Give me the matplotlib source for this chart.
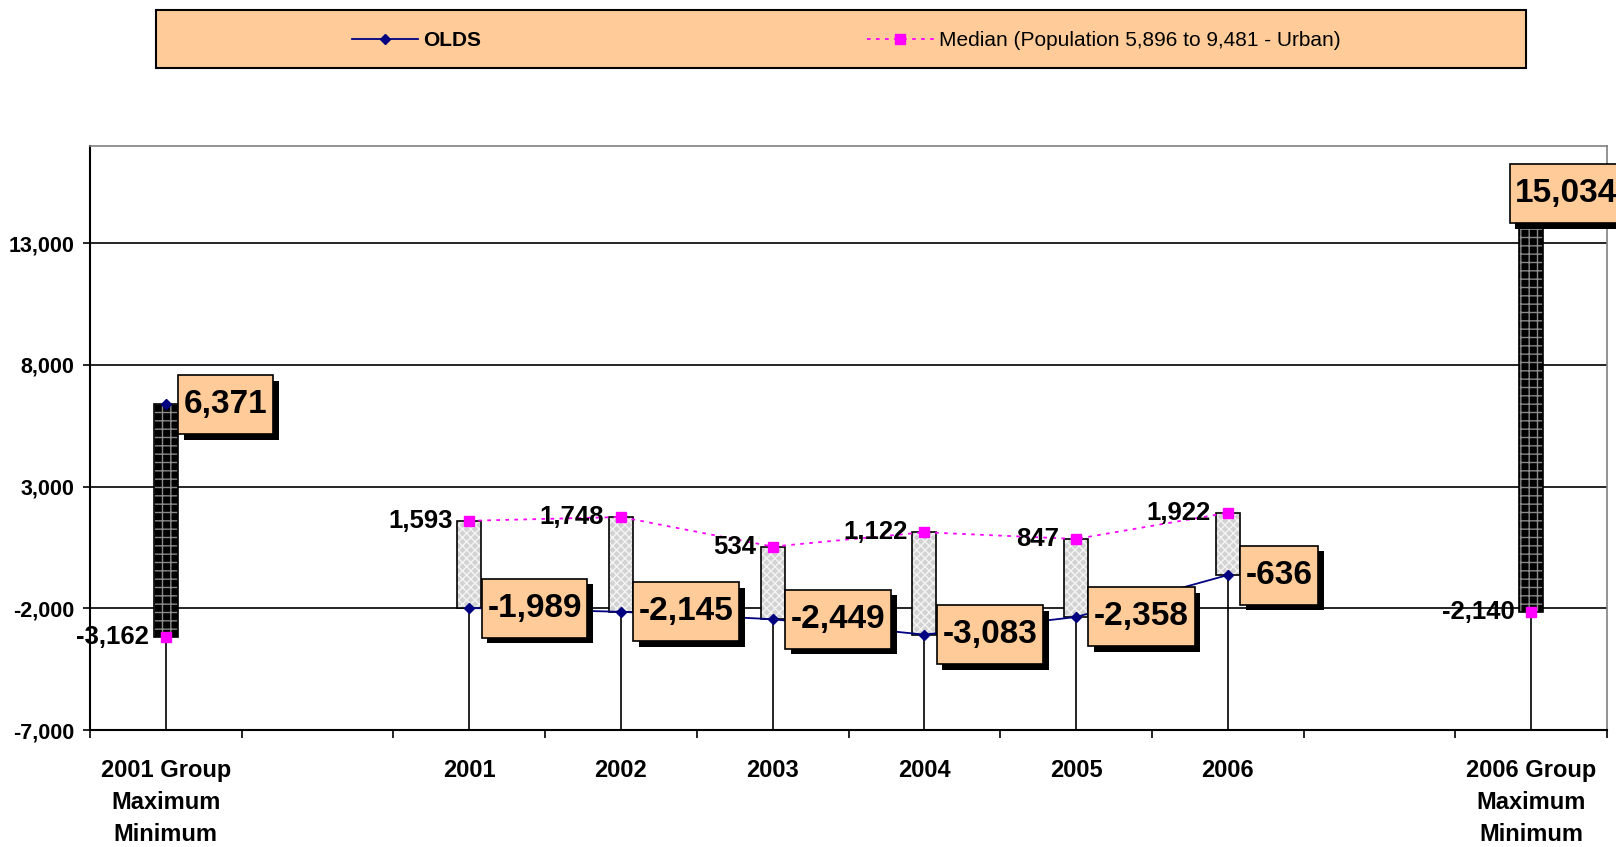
import numpy as np
import matplotlib.pyplot as plt
import matplotlib.patheffects as pe
from matplotlib.path import Path
from matplotlib.patches import Rectangle
from matplotlib.ticker import FuncFormatter

plt.rcParams['font.family'] = ['Liberation Sans', 'DejaVu Sans']
plt.rcParams['font.weight'] = 'bold'
plt.rcParams['hatch.linewidth'] = 1.0

# chart data (empty slots keep the gaps between the groups and the years)
categories = ['2001 Group\nMaximum\nMinimum', '', '2001', '2002', '2003',
              '2004', '2005', '2006', '', '2006 Group\nMaximum\nMinimum']
olds = np.array([6371, np.nan, -1989, -2145, -2449, -3083, -2358, -636, np.nan, 15034])
median = np.array([-3162, np.nan, 1593, 1748, 534, 1122, 847, 1922, np.nan, -2140])
y_ticks = [-7000, -2000, 3000, 8000, 13000]

x = np.arange(len(categories))
valid = ~np.isnan(olds)


def tall_box(x0, y0, width, height, mutation_size):
    # square box with more room above and below the text than at the sides
    padx = 0.17 * mutation_size
    pady = 0.42 * mutation_size
    x0, y0 = x0 - padx, y0 - pady
    x1, y1 = x0 + width + 2 * padx, y0 + height + 2 * pady
    return Path([(x0, y0), (x1, y0), (x1, y1), (x0, y1), (x0, y0)], closed=True)


fig = plt.figure(figsize=(16.16, 8.47), dpi=100)
ax = fig.add_axes([90 / 1616, 1 - 730 / 847, (1607 - 90) / 1616, (730 - 145.7) / 847])

ax.set_xlim(-0.5, len(categories) - 0.5)
ax.set_ylim(-7000, 17000)
ax.set_yticks(y_ticks)
ax.yaxis.set_major_formatter(FuncFormatter(lambda v, p: f'{v:,.0f}'))
ax.yaxis.grid(True, color='black', lw=1.2)
ax.set_axisbelow(True)

# drop lines
top = np.fmax(olds, median)
ax.vlines(x[valid], -7000, top[valid], color='black', lw=1.2, zorder=1.5)

# up/down bars between OLDS and median
lo = np.fmin(olds, median)
hi = np.fmax(olds, median)
up = valid & (median > olds)
down = valid & (median < olds)
bw = 0.16
ax.bar(x[up], (hi - lo)[up], bottom=lo[up], width=bw, color='#d2d2d2',
       edgecolor='#f4f4f4', hatch='xxxx', lw=0, zorder=3)
ax.bar(x[down], (hi - lo)[down], bottom=lo[down], width=bw, color='black',
       edgecolor='#8a8a8a', hatch='++', lw=0, zorder=3)
ax.bar(x[valid], (hi - lo)[valid], bottom=lo[valid], width=bw, facecolor='none',
       edgecolor='black', lw=1.2, zorder=3.1)

h_olds, = ax.plot(x, olds, color='#000080', lw=1.3, marker='D', ms=5.5, zorder=4)
h_med, = ax.plot(x, median, color='#ff00ff', lw=1.3, ls=(0, (2, 3)),
                 marker='s', ms=6.5, zorder=4)

shadow = [pe.SimplePatchShadow(offset=(4, -4), shadow_rgbFace='black', alpha=1.0),
          pe.Normal()]
for i in x[valid]:
    dx = -11.5 if i == len(x) - 1 else 13
    ax.annotate(f'{olds[i]:,.0f}', (x[i], olds[i]), xytext=(dx, 0),
                textcoords='offset points', ha='left', va='center',
                fontsize=24, zorder=6, annotation_clip=False,
                bbox=dict(boxstyle=tall_box, fc='#ffcc99', ec='black', lw=1.2,
                          path_effects=shadow))
    ax.annotate(f'{median[i]:,.0f}', (x[i], median[i]), xytext=(-12, 0),
                textcoords='offset points', ha='right', va='center',
                fontsize=18.5, zorder=6)

# axes styling
ax.set_xticks(x)
ax.set_xticklabels(categories, fontsize=17, linespacing=1.5)
ax.set_xticks(np.arange(-0.5, len(categories)), minor=True)
ax.tick_params(axis='x', which='major', length=0, pad=21)
ax.tick_params(axis='x', which='minor', length=6, width=1.2, color='black')
ax.tick_params(axis='y', length=5, width=1.2, pad=6, labelsize=15.5)
for side in ['left', 'bottom']:
    ax.spines[side].set_linewidth(1.5)
for side in ['top', 'right']:
    ax.spines[side].set_color('#808080')
    ax.spines[side].set_linewidth(1.2)

# legend panel
fig.add_artist(Rectangle((155.6 / 1616, 1 - 68 / 847), (1526 - 155.6) / 1616, 57.7 / 847,
                         transform=fig.transFigure, fc='#ffcc99', ec='black', lw=1.5,
                         zorder=0))
leg = fig.legend(handles=[h_olds, h_med],
                 labels=['OLDS', 'Median (Population 5,896 to 9,481 - Urban)'],
                 loc='center', bbox_to_anchor=(846 / 1616, 1 - 41 / 847), ncol=2,
                 frameon=False, fontsize=15, handlelength=3.2, handletextpad=0.25,
                 columnspacing=18.5)
leg.get_texts()[1].set_fontweight('normal')

fig.savefig('out.png', dpi=100)
